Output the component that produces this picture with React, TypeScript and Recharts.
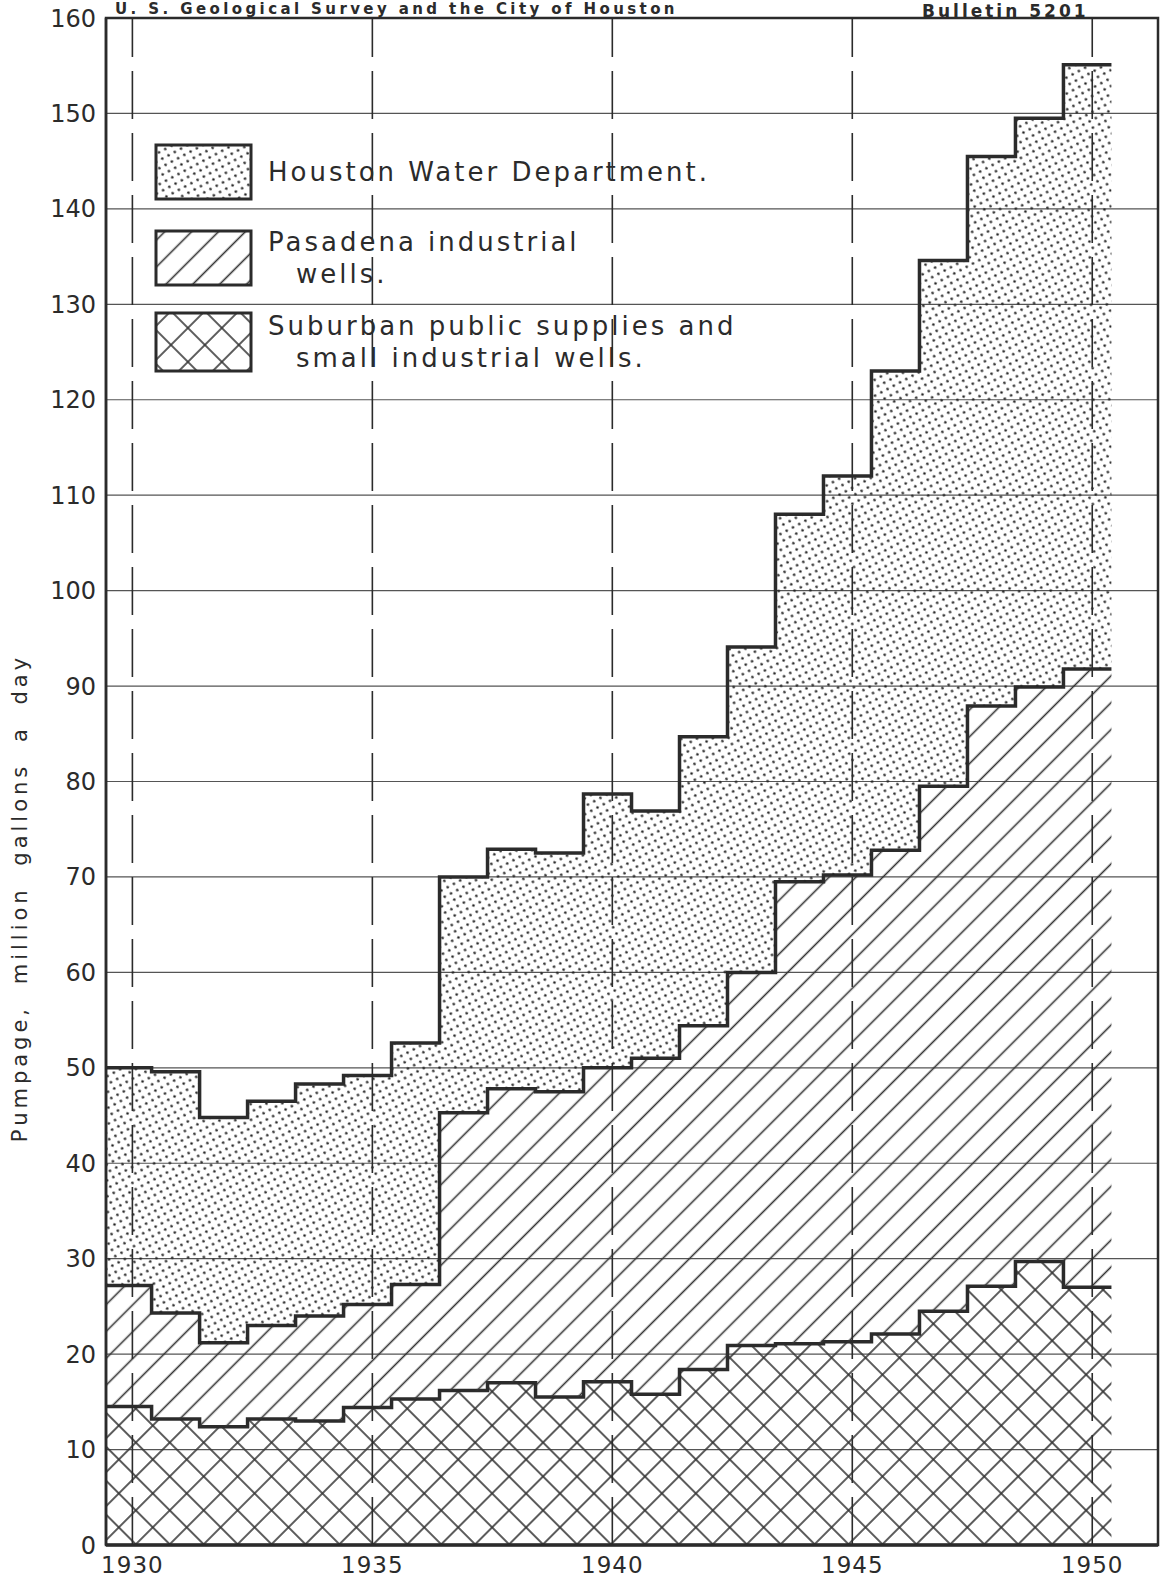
import React from "react";
import {
  AreaChart,
  Area,
  XAxis,
  YAxis,
  CartesianGrid,
  ReferenceLine,
  ReferenceArea,
  Legend,
} from "recharts";

// Pumpage by year, million gallons a day
const YEARS = [
  1930, 1931, 1932, 1933, 1934, 1935, 1936, 1937, 1938, 1939, 1940,
  1941, 1942, 1943, 1944, 1945, 1946, 1947, 1948, 1949, 1950,
];
const SUBURBAN = [
  14.5, 13.2, 12.4, 13.2, 13.0, 14.4, 15.3, 16.2, 17.0, 15.5, 17.1,
  15.8, 18.4, 20.9, 21.1, 21.3, 22.1, 24.5, 27.1, 29.7, 27.0,
];
const PASADENA = [
  12.7, 11.1, 8.8, 9.8, 11.0, 10.8, 12.0, 29.1, 30.8, 32.0, 32.9,
  35.2, 36.0, 39.1, 48.4, 48.9, 50.7, 55.0, 60.8, 60.2, 64.8,
];
const HOUSTON = [
  22.8, 25.3, 23.6, 23.5, 24.3, 24.0, 25.3, 24.7, 25.1, 25.0, 28.7,
  25.9, 30.3, 34.1, 38.5, 41.8, 50.2, 55.1, 57.6, 59.6, 63.3,
];
const X_TICKS = [1930, 1935, 1940, 1945, 1950];
const Y_TICKS = [0, 10, 20, 30, 40, 50, 60, 70, 80, 90, 100, 110, 120, 130, 140, 150, 160];

const LEGEND_ITEMS = [
  { key: "houston", fill: "url(#dots)", lines: ["Houston Water Department."] },
  { key: "pasadena", fill: "url(#hatch)", lines: ["Pasadena industrial", "wells."] },
  { key: "suburban", fill: "url(#cross)", lines: ["Suburban public supplies and", "small industrial wells."] },
];

// each year's step runs from year-0.6 to year+0.4
const STEP_BEFORE = 0.6;
const STEP_AFTER = 0.4;
const X_MIN = 1929.45;
const X_MAX = 1951.37;

const rows = YEARS.map((y, i) => ({
  x: y - STEP_BEFORE,
  suburban: SUBURBAN[i],
  pasadena: PASADENA[i],
  houston: HOUSTON[i],
}));
const last = YEARS.length - 1;
rows.push({
  x: YEARS[last] + STEP_AFTER,
  suburban: SUBURBAN[last],
  pasadena: PASADENA[last],
  houston: HOUSTON[last],
});

const INK = "#2b2b2b";
const FONT = "'DejaVu Sans', sans-serif";

function LegendBox() {
  return (
    <div style={{ fontFamily: FONT, color: INK }}>
      {LEGEND_ITEMS.map((it, idx) => (
        <div key={it.key} style={{ display: "flex", alignItems: "center", height: idx === 2 ? 62 : 58, marginBottom: idx === 0 ? 28 : 24 }}>
          <svg width={100} height={idx === 2 ? 62 : 58} style={{ flex: "none" }}>
            <rect x={2} y={2} width={95} height={idx === 2 ? 58 : 54} fill={it.fill} stroke={INK} strokeWidth={3} />
          </svg>
          <div style={{ marginLeft: 14, fontSize: 26, letterSpacing: 3, lineHeight: "32px", whiteSpace: "nowrap" }}>
            {it.lines.map((l, j) => (
              <div key={l} style={{ paddingLeft: j > 0 ? 28 : 0 }}>{l}</div>
            ))}
          </div>
        </div>
      ))}
    </div>
  );
}

export default function App() {
  return (
    <div style={{ position: "absolute", left: 0, top: 0, width: 1170, height: 1585, background: "#fff", overflow: "hidden" }}>
      <AreaChart
        width={1170}
        height={1585}
        data={rows}
        margin={{ top: 18, right: 12, bottom: 0, left: 46 }}
      >
        <defs>
          <pattern id="dots" width={10} height={10} patternUnits="userSpaceOnUse" patternTransform="rotate(17)">
            <circle cx={2.5} cy={2.5} r={1.3} fill="#222" />
            <circle cx={7.5} cy={7.5} r={1.3} fill="#222" />
          </pattern>
          <pattern id="hatch" width={19} height={19} patternUnits="userSpaceOnUse" patternTransform="rotate(45)">
            <line x1={9.5} y1={0} x2={9.5} y2={19} stroke="#333" strokeWidth={1.6} />
          </pattern>
          <pattern id="cross" width={24} height={24} patternUnits="userSpaceOnUse" patternTransform="rotate(45)">
            <line x1={12} y1={0} x2={12} y2={24} stroke="#333" strokeWidth={1.6} />
            <line x1={0} y1={12} x2={24} y2={12} stroke="#333" strokeWidth={1.6} />
          </pattern>
        </defs>
        <CartesianGrid vertical={false} stroke="#555" strokeWidth={1.2} />
        <XAxis
          type="number"
          dataKey="x"
          domain={[X_MIN, X_MAX]}
          allowDataOverflow
          ticks={X_TICKS}
          height={40}
          tickSize={0}
          tickMargin={12}
          tick={{ fontSize: 23, fill: INK, fontFamily: FONT, letterSpacing: 1 }}
          axisLine={{ stroke: INK, strokeWidth: 3.5 }}
          tickLine={false}
        />
        <YAxis
          domain={[0, 160]}
          ticks={Y_TICKS}
          width={60}
          tickSize={0}
          tickMargin={10}
          interval={0}
          tick={{ fontSize: 24, fill: INK, fontFamily: FONT }}
          axisLine={{ stroke: INK, strokeWidth: 2.5 }}
          tickLine={false}
        />
        <Area
          type="stepAfter"
          dataKey="suburban"
          stackId="p"
          fill="url(#cross)"
          fillOpacity={1}
          stroke={INK}
          strokeWidth={3.5}
          isAnimationActive={false}
        />
        <Area
          type="stepAfter"
          dataKey="pasadena"
          stackId="p"
          fill="url(#hatch)"
          fillOpacity={1}
          stroke={INK}
          strokeWidth={3.5}
          isAnimationActive={false}
        />
        <Area
          type="stepAfter"
          dataKey="houston"
          stackId="p"
          fill="url(#dots)"
          fillOpacity={1}
          stroke={INK}
          strokeWidth={3.5}
          isAnimationActive={false}
        />
        {X_TICKS.map((t) => (
          <ReferenceLine key={t} x={t} stroke={INK} strokeWidth={1.6} strokeDasharray="48 14" />
        ))}
        <ReferenceArea
          x1={X_MIN}
          x2={X_MAX}
          y1={0}
          y2={160}
          fill="none"
          fillOpacity={0}
          stroke={INK}
          strokeWidth={2.5}
          ifOverflow="visible"
        />
        <Legend
          layout="horizontal"
          verticalAlign="middle"
          align="center"
          content={() => <LegendBox />}
          wrapperStyle={{ position: "absolute", left: 154, top: 143, width: 640, height: 240 }}
        />
      </AreaChart>
      <svg width={1170} height={1585} style={{ position: "absolute", left: 0, top: 0, pointerEvents: "none" }}>
        <text x={115} y={14} fontFamily={FONT} fontWeight="bold" fontSize={15} letterSpacing={3.4} fill={INK}>
          U. S.  Geological  Survey  and  the  City  of  Houston
        </text>
        <text x={922} y={17} fontFamily={FONT} fontWeight="bold" fontSize={17} letterSpacing={3} fill={INK}>
          Bulletin  5201
        </text>
        <text
          x={27}
          y={898}
          transform="rotate(-90 27 898)"
          textAnchor="middle"
          fontFamily={FONT}
          fontSize={21}
          letterSpacing={4}
          wordSpacing={10}
          fill={INK}
        >
          Pumpage,  million  gallons  a  day
        </text>
      </svg>
    </div>
  );
}
